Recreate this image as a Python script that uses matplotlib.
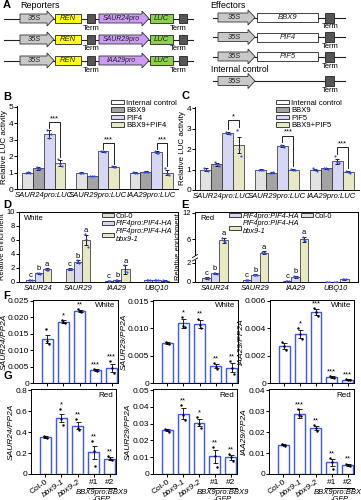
import numpy as np
import matplotlib
matplotlib.use("Agg")
import matplotlib.pyplot as plt
from matplotlib.patches import Rectangle, Polygon, Patch

plt.rcParams['font.family'] = ['Liberation Sans', 'DejaVu Sans']
plt.rcParams['font.size'] = 6
plt.rcParams['axes.linewidth'] = 0.7
plt.rcParams['xtick.major.width'] = 0.7
plt.rcParams['ytick.major.width'] = 0.7
plt.rcParams['xtick.major.size'] = 2
plt.rcParams['ytick.major.size'] = 2
plt.rcParams['xtick.major.pad'] = 1.2
plt.rcParams['ytick.major.pad'] = 0.8
plt.rcParams['legend.frameon'] = False

# ------------------------------------------------------------------ DATA
reporter_promoters = ['SAUR24pro', 'SAUR29pro', 'IAA29pro']
effector_genes = ['BBX9', 'PIF4', 'PIF5']

luc_groups = ['SAUR24pro:LUC', 'SAUR29pro:LUC', 'IAA29pro:LUC']
b_series = ['Internal control', 'BBX9', 'PIF4', 'BBX9+PIF4']
b_means = [[1.0, 1.25, 3.35, 1.6], [1.0, 0.8, 2.3, 1.35], [1.0, 1.05, 2.25, 1.0]]
b_errs = [[0.03, 0.08, 0.25, 0.18], [0.01, 0.02, 0.02, 0.03], [0.03, 0.02, 0.05, 0.15]]
b_reps = [[[1.0, 1.02, 0.97], [1.32, 1.2, 1.23], [3.6, 3.1, 3.35], [1.85, 1.55, 1.4]],
          [[1.0, 1.0, 1.0], [0.82, 0.79, 0.8], [2.32, 2.3, 2.28], [1.38, 1.33, 1.35]],
          [[1.02, 1.0, 0.98], [1.06, 1.05, 1.04], [2.32, 2.22, 2.2], [1.25, 0.9, 0.85]]]
b_sig = ['***', '***', '***']

c_series = ['Internal control', 'BBX9', 'PIF5', 'BBX9+PIF5']
c_means = [[1.0, 1.25, 2.8, 2.2], [1.0, 0.85, 2.15, 1.0], [1.0, 1.05, 1.4, 0.9]]
c_errs = [[0.05, 0.08, 0.05, 0.4], [0.01, 0.01, 0.04, 0.03], [0.04, 0.02, 0.12, 0.04]]
c_reps = [[[1.05, 1.0, 0.95], [1.35, 1.25, 1.15], [2.85, 2.8, 2.75], [2.95, 2.0, 1.65]],
          [[1.0, 1.0, 1.0], [0.85, 0.84, 0.86], [2.2, 2.15, 2.1], [1.02, 0.98, 1.0]],
          [[1.05, 1.0, 0.95], [1.07, 1.05, 1.03], [1.65, 1.35, 1.3], [0.95, 0.9, 0.85]]]
c_sig = ['*', '***', '***']

chip_genes = ['SAUR24', 'SAUR29', 'IAA29', 'UBQ10']
chip_series = ['Col-0', 'PIF4pro:PIF4-HA', 'PIF4pro:PIF4-HA\nbbx9-1']
d_means = [[0.3, 1.25, 1.8], [1.85, 2.9, 6.0], [0.15, 0.25, 1.8], [0.3, 0.3, 0.2]]
d_errs = [[0.05, 0.08, 0.15], [0.1, 0.2, 0.7], [0.03, 0.05, 0.6], [0.05, 0.04, 0.04]]
d_reps = [[[0.3, 0.28, 0.32], [1.3, 1.25, 1.2], [1.9, 1.75, 1.7]],
          [[1.9, 1.85, 1.8], [3.1, 2.85, 2.75], [6.8, 6.2, 5.0]],
          [[0.15, 0.14, 0.16], [0.25, 0.3, 0.2], [2.4, 1.6, 1.4]],
          [[0.35, 0.3, 0.25], [0.32, 0.3, 0.28], [0.22, 0.2, 0.18]]]
d_letters = [['c', 'b', 'a'], ['c', 'b', 'a'], ['c', 'b', 'a'], ['', '', '']]

e_means = [[0.4, 0.9, 5.8], [0.2, 0.75, 3.0], [0.1, 0.55, 6.0], [0.02, 0.02, 0.3]]
e_errs = [[0.08, 0.05, 0.6], [0.03, 0.04, 0.25], [0.02, 0.08, 0.5], [0.01, 0.01, 0.04]]
e_reps = [[[0.45, 0.4, 0.35], [0.95, 0.9, 0.85], [6.4, 5.6, 5.4]],
          [[0.22, 0.2, 0.18], [0.78, 0.75, 0.72], [3.2, 3.0, 2.8]],
          [[0.1, 0.12, 0.08], [0.65, 0.5, 0.5], [6.6, 5.8, 5.6]],
          [[0.02, 0.02, 0.02], [0.02, 0.02, 0.02], [0.32, 0.3, 0.28]]]
e_letters = [['c', 'b', 'a'], ['c', 'b', 'a'], ['c', 'b', 'a'], ['', '', '']]

lines = ['Col-0', 'bbx9-1', 'bbx9-2', '#1', '#2']

f1_means = [0.0135, 0.0187, 0.0220, 0.0040, 0.0047]
f1_errs = [0.0012, 0.0005, 0.0004, 0.0003, 0.0012]
f1_reps = [[0.0165, 0.0128, 0.0118], [0.0192, 0.0185, 0.0182], [0.0226, 0.0219, 0.0215],
           [0.0043, 0.0040, 0.0038], [0.0068, 0.0045, 0.0030]]
f1_sig = ['', '*', '**', '***', '***']

f2_means = [0.0073, 0.0109, 0.0108, 0.0031, 0.0028]
f2_errs = [0.0002, 0.0008, 0.0007, 0.0004, 0.0008]
f2_reps = [[0.0075, 0.0073, 0.0071], [0.0120, 0.0105, 0.0102], [0.0118, 0.0106, 0.0100],
           [0.0037, 0.0030, 0.0026], [0.0040, 0.0028, 0.0016]]
f2_sig = ['', '*', '**', '**', '**']

f3_means = [0.0027, 0.0036, 0.0052, 0.00045, 0.00025]
f3_errs = [0.0002, 0.0003, 0.0002, 0.00005, 0.00005]
f3_reps = [[0.0030, 0.0027, 0.0024], [0.0040, 0.0036, 0.0032], [0.0055, 0.0052, 0.0049],
           [0.0005, 0.00045, 0.0004], [0.0003, 0.00025, 0.0002]]
f3_sig = ['', '*', '***', '***', '***']

g1_means = [0.35, 0.535, 0.46, 0.205, 0.145]
g1_errs = [0.01, 0.04, 0.035, 0.06, 0.015]
g1_reps = [[0.36, 0.35, 0.34], [0.62, 0.52, 0.47], [0.52, 0.44, 0.42], [0.31, 0.22, 0.08], [0.17, 0.14, 0.13]]
g1_sig = ['', '*', '**', '**', '**']

g2_means = [0.026, 0.036, 0.0305, 0.0105, 0.010]
g2_errs = [0.0005, 0.003, 0.002, 0.004, 0.0015]
g2_reps = [[0.0268, 0.026, 0.0252], [0.041, 0.035, 0.032], [0.034, 0.030, 0.0275],
           [0.016, 0.011, 0.004], [0.012, 0.010, 0.008]]
g2_sig = ['', '**', '*', '**', '**']

g3_means = [0.014, 0.0288, 0.022, 0.0055, 0.0043]
g3_errs = [0.0004, 0.002, 0.001, 0.0015, 0.0005]
g3_reps = [[0.0145, 0.014, 0.0135], [0.031, 0.028, 0.0275], [0.0235, 0.022, 0.0205],
           [0.0075, 0.0055, 0.0025], [0.005, 0.0043, 0.0037]]
g3_sig = ['', '***', '**', '**', '**']

# ------------------------------------------------------------------ STYLE
W, H = 361, 500
fig = plt.figure(figsize=(W / 100, H / 100), dpi=100)
BLUE = '#2f4cff'
BAR_BLUE = '#3a56ff'
luc_colors = ['#e2e2e2', '#a3a3a3', '#d6d6f5', '#e9e8c4']
chip_colors = ['#dcdcdc', '#d6d6f5', '#e9e8c4']


def add_ax(x0, y0, x1, y1):
    return fig.add_axes([x0 / W, 1 - y1 / H, (x1 - x0) / W, (y1 - y0) / H])


# ------------------------------------------------------------------ PANEL A (pixel overlay)
axA = fig.add_axes([0, 0, 1, 1])
axA.set_xlim(0, W)
axA.set_ylim(H, 0)
axA.axis('off')
axA.set_zorder(10)


def arrow(x0, x1, y, fc, label, h=4.5, hh=7.5, hl=7, fs=5.3):
    pts = [(x0, y - h), (x1 - hl, y - h), (x1 - hl, y - hh), (x1, y), (x1 - hl, y + hh),
           (x1 - hl, y + h), (x0, y + h)]
    axA.add_patch(Polygon(pts, closed=True, fc=fc, ec='#333333', lw=0.6, zorder=3))
    axA.text((x0 + x1 - hl) / 2 + 1, y + 0.3, label, style='italic', ha='center', va='center',
             fontsize=fs, color='#222222', zorder=4)


def box(x0, x1, y, fc, label=None, h=4.5):
    axA.add_patch(Rectangle((x0, y - h), x1 - x0, 2 * h, fc=fc, ec='#222222', lw=0.6, zorder=3))
    if label:
        axA.text((x0 + x1) / 2, y + 0.3, label, style='italic', ha='center', va='center',
                 fontsize=5.5, color='#222222', zorder=4)


def term(x0, y, h=4.5, w=8):
    axA.add_patch(Rectangle((x0, y - h), w, 2 * h, fc='#555555', ec='#222222', lw=0.6, zorder=3))


axA.text(3, 5, 'A', fontsize=8, fontweight='bold', va='center')
axA.text(20, 5, 'Reporters', fontsize=6.5, va='center')
rep_y = [18.5, 39.5, 60.5]
for y, pro in zip(rep_y, reporter_promoters):
    axA.plot([4, 193], [y, y], color='#222222', lw=0.8, zorder=2)
    arrow(20, 54, y, '#c8c8c8', '35S')
    box(55, 81, y, '#ffff10', 'REN')
    term(87, y)
    axA.text(91, y + 9.5, 'Term', fontsize=5.5, ha='center', va='center')
    arrow(99, 149, y, '#cc9cf5', pro, fs=5.0)
    box(150, 173, y, '#8ad04a', 'LUC')
    term(179, y)
    axA.text(178, y + 9.5, 'Term', fontsize=5.5, ha='center', va='center')

axA.text(210, 5, 'Effectors', fontsize=6.5, va='center')
eff_y = [17.5, 37, 56.5]
for y, g in zip(eff_y, effector_genes):
    axA.plot([213, 345], [y, y], color='#222222', lw=0.8, zorder=2)
    arrow(218, 255, y, '#c8c8c8', '35S')
    box(257, 318, y, 'white', g)
    term(325, y, h=5, w=9)
    axA.text(330, y + 9.5, 'Term', fontsize=5.5, ha='center', va='center')
axA.text(211, 70, 'Internal control', fontsize=6.2, va='center')
axA.plot([213, 345], [81, 81], color='#222222', lw=0.8, zorder=2)
arrow(218, 255, 81, '#c8c8c8', '35S')
term(325, 81, h=5, w=9)
axA.text(330, 91, 'Term', fontsize=5.5, ha='center', va='center')

for lab, (px, py) in zip('BCDEFG', [(3, 97), (181, 96), (3, 205), (181, 205), (3, 296), (3, 376)]):
    axA.text(px, py, lab, fontsize=8, fontweight='bold', va='center')


# ------------------------------------------------------------------ helpers
def grouped(ax, means, errs, reps, colors, width):
    n = len(means[0])
    offs = (np.arange(n) - (n - 1) / 2) * width
    jit = np.array([-0.035, 0.0, 0.035])
    xs = []
    for g in range(len(means)):
        row = []
        for b in range(n):
            x = g + offs[b]
            ax.bar(x, means[g][b], width, color=colors[b], edgecolor='#222222', lw=0.5, zorder=2)
            ax.errorbar(x, means[g][b], yerr=errs[g][b], fmt='none', ecolor='k', elinewidth=0.6,
                        capsize=1.5, capthick=0.6, zorder=3)
            ax.scatter(x + jit[:len(reps[g][b])], reps[g][b], s=2.5, color=BLUE, zorder=4, lw=0)
            row.append(x)
        xs.append(row)
    return xs


def luc_panel(ax, means, errs, reps, series, sig, ymax, legend_xy):
    xs = grouped(ax, means, errs, reps, luc_colors, 0.2)
    ax.set_xlim(-0.5, 2.5)
    ax.set_ylim(0, ymax + 0.05)
    ax.set_yticks(range(0, int(ymax) + 1))
    ax.set_xticks(range(len(luc_groups)))
    ax.set_xticklabels(luc_groups, style='italic', fontsize=5.5)
    ax.tick_params(axis='x', length=0, pad=2)
    ax.tick_params(axis='y', labelsize=6)
    for s in ['top', 'right']:
        ax.spines[s].set_visible(False)
    ax.set_ylabel('Relative LUC activity', fontsize=5.8, labelpad=0.5)
    for g in range(len(means)):
        t2 = max(means[g][2] + errs[g][2], max(reps[g][2]))
        t3 = max(means[g][3] + errs[g][3], max(reps[g][3]))
        top = max(t2, t3) + 0.45
        x1, x2 = xs[g][2], xs[g][3]
        ax.plot([x1, x1, x2, x2], [t2 + 0.12, top, top, t3 + 0.12], color='k', lw=0.6, zorder=5)
        ax.text((x1 + x2) / 2, top, sig[g], ha='center', va='bottom', fontsize=5.5)
    handles = [Patch(facecolor=c if i else 'white', edgecolor='#222222', lw=0.6)
               for i, c in enumerate(luc_colors)]
    ax.legend(handles, series, loc='upper left', bbox_to_anchor=(legend_xy[0] / W, 1 - legend_xy[1] / H),
              bbox_transform=fig.transFigure, borderaxespad=0, borderpad=0, fontsize=5.5,
              handlelength=1.7, handleheight=0.5, labelspacing=0.05, handletextpad=0.3)


# ------------------------------------------------------------------ B, C
axB = add_ax(17, 106, 178, 189)
luc_panel(axB, b_means, b_errs, b_reps, b_series, b_sig, 5, (111, 100))
axC = add_ax(195, 107, 359, 190)
luc_panel(axC, c_means, c_errs, c_reps, c_series, c_sig, 4, (276, 100))


# ------------------------------------------------------------------ D, E
def chip_panel(ax, means, errs, reps, letters):
    xs = grouped(ax, means, errs, reps, chip_colors, 0.21)
    ax.set_xlim(-0.5, 3.55)
    ax.set_xticks(range(len(chip_genes)))
    ax.set_xticklabels(chip_genes, style='italic', fontsize=5.3)
    ax.tick_params(axis='x', length=0, pad=2)
    ax.tick_params(axis='y', labelsize=5.5)
    ax.set_ylabel('Relative enrichment', fontsize=5.4, labelpad=0.3)
    for g in range(len(means)):
        for b in range(len(means[g])):
            if letters[g][b]:
                top = max(means[g][b] + errs[g][b], max(reps[g][b]))
                ax.annotate(letters[g][b], (xs[g][b], top), xytext=(0, 0.5), textcoords='offset points',
                            ha='center', va='bottom', fontsize=5.5)


axD = add_ax(19, 212, 178, 282)
chip_panel(axD, d_means, d_errs, d_reps, d_letters)
axD.set_ylim(0, 10)
axD.set_yticks([0, 2, 4, 6, 8, 10])
axD.text(0.03, 0.96, 'White', transform=axD.transAxes, ha='left', va='top', fontsize=5.5)
legD = axD.legend([Patch(facecolor=c, edgecolor='#222222', lw=0.6) for c in chip_colors], chip_series,
                  loc='upper left', bbox_to_anchor=(102 / W, 1 - 213 / H), bbox_transform=fig.transFigure,
                  borderaxespad=0, borderpad=0, handlelength=1.6, handleheight=0.5,
                  labelspacing=0.05, handletextpad=0.3, prop={'style': 'italic', 'size': 5.3})
legD.get_texts()[0].set_style('normal')


def fwd(y):
    y = np.asarray(y, dtype=float)
    return np.where(y <= 2, y * 9.5, 25 + (y - 2) * 4.4)


def inv(f):
    f = np.asarray(f, dtype=float)
    return np.where(f <= 19, f / 9.5, np.where(f < 25, 2.0, 2 + (f - 25) / 4.4))


axE = add_ax(195, 212, 358, 282)
axE.set_yscale('function', functions=(fwd, inv))
chip_panel(axE, e_means, e_errs, e_reps, e_letters)
axE.set_ylim(0, 12.2)
axE.set_yticks([0, 2, 6, 12])
axE.set_yticklabels(['0', '2', '6', '12'])
axE.minorticks_off()
axE.text(0.03, 0.96, 'Red', transform=axE.transAxes, ha='left', va='top', fontsize=5.5)
e_order = [1, 2, 0]
legE = axE.legend([Patch(facecolor=chip_colors[i], edgecolor='#222222', lw=0.6) for i in e_order],
                  [chip_series[i] for i in e_order], ncol=2, loc='upper left',
                  bbox_to_anchor=(229 / W, 1 - 213 / H), bbox_transform=fig.transFigure,
                  borderaxespad=0, borderpad=0, handlelength=1.6, handleheight=0.5,
                  labelspacing=0.05, handletextpad=0.3, columnspacing=0.2,
                  prop={'style': 'italic', 'size': 5.3})
legE.get_texts()[2].set_style('normal')
# axis break marks
axA.add_patch(Rectangle((193.5, 256), 3, 3.5, fc='white', ec='none', zorder=5))
for yy in (256, 259.5):
    axA.plot([192.5, 197.5], [yy + 1.5, yy - 1.5], color='k', lw=0.6, zorder=6)


# ------------------------------------------------------------------ F, G
def qpcr_panel(ax, means, errs, reps, sig, ymax, yticks, yticklabels, ylabel, cond):
    x = np.arange(len(means))
    ax.bar(x, means, 0.68, facecolor='white', edgecolor=BAR_BLUE, lw=1.0, zorder=2)
    ax.errorbar(x, means, yerr=errs, fmt='none', ecolor='k', elinewidth=0.6, capsize=1.8,
                capthick=0.6, zorder=3)
    jit = np.array([-0.12, 0.0, 0.12])
    for i in range(len(means)):
        ax.scatter(x[i] + jit[:len(reps[i])], reps[i], s=3, color='k', zorder=4, lw=0)
        if sig[i]:
            top = max(means[i] + errs[i], max(reps[i]))
            ax.annotate(sig[i], (x[i], top), xytext=(0, 0.5), textcoords='offset points',
                        ha='center', va='bottom', fontsize=5.5)
    ax.set_xlim(-0.9, 4.4)
    ax.set_ylim(0, ymax)
    ax.set_yticks(yticks)
    ax.set_yticklabels(yticklabels)
    ax.set_xticks(x)
    ax.tick_params(axis='y', labelsize=6)
    ax.set_ylabel(ylabel, style='italic', fontsize=6, labelpad=0.3)
    ax.text(0.97, 0.97, cond, transform=ax.transAxes, ha='right', va='top', fontsize=5.8)


def g_labels(ax):
    ax.set_xticklabels(lines[:3] + ['', ''], rotation=35, ha='right', rotation_mode='anchor', fontsize=6)
    for t in ax.get_xticklabels()[1:3]:
        t.set_style('italic')
    tr = ax.get_xaxis_transform()
    ax.text(3, -0.105, lines[3], transform=tr, ha='center', va='center', fontsize=6, clip_on=False)
    ax.text(4, -0.105, lines[4], transform=tr, ha='center', va='center', fontsize=6, clip_on=False)
    ax.plot([2.6, 4.4], [-0.165, -0.165], transform=tr, color='k', lw=0.7, clip_on=False)
    ax.text(3.5, -0.22, 'BBX9pro:BBX9', transform=tr, ha='center', va='center', fontsize=5.5,
            style='italic', clip_on=False)
    ax.text(3.5, -0.295, '-GFP', transform=tr, ha='center', va='center', fontsize=5.5,
            style='italic', clip_on=False)


axF1 = add_ax(33, 300, 118, 383)
qpcr_panel(axF1, f1_means, f1_errs, f1_reps, f1_sig, 0.0253,
           [0, 0.005, 0.010, 0.015, 0.020, 0.025], ['0', '0.005', '0.010', '0.015', '0.020', '0.025'],
           'SAUR24/PP2A', 'White')
axF2 = add_ax(153, 300, 238, 383)
qpcr_panel(axF2, f2_means, f2_errs, f2_reps, f2_sig, 0.0152,
           [0, 0.005, 0.010, 0.015], ['0', '0.005', '0.010', '0.015'], 'SAUR29/PP2A', 'White')
axF3 = add_ax(270, 300, 354, 383)
qpcr_panel(axF3, f3_means, f3_errs, f3_reps, f3_sig, 0.00607,
           [0, 0.002, 0.004, 0.006], ['0', '0.002', '0.004', '0.006'], 'IAA29/PP2A', 'White')
for a in (axF1, axF2, axF3):
    a.set_xticklabels([])

axG1 = add_ax(31, 389, 116, 474)
qpcr_panel(axG1, g1_means, g1_errs, g1_reps, g1_sig, 0.81,
           [0, 0.2, 0.4, 0.6, 0.8], ['0', '0.2', '0.4', '0.6', '0.8'], 'SAUR24/PP2A', 'Red')
axG2 = add_ax(153, 389, 237, 474)
qpcr_panel(axG2, g2_means, g2_errs, g2_reps, g2_sig, 0.0506,
           [0, 0.01, 0.02, 0.03, 0.04, 0.05], ['0', '0.01', '0.02', '0.03', '0.04', '0.05'],
           'SAUR29/PP2A', 'Red')
axG3 = add_ax(269, 389, 354, 474)
qpcr_panel(axG3, g3_means, g3_errs, g3_reps, g3_sig, 0.0405,
           [0, 0.01, 0.02, 0.03, 0.04], ['0', '0.01', '0.02', '0.03', '0.04'], 'IAA29/PP2A', 'Red')
for a in (axG1, axG2, axG3):
    g_labels(a)

fig.savefig('out.png', dpi=100)
